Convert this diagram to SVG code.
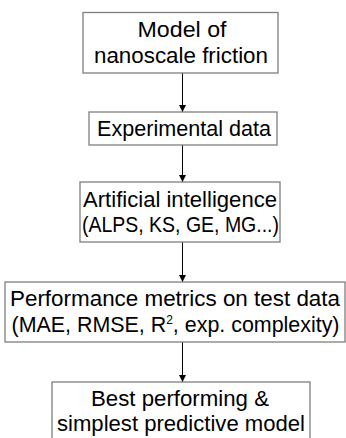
<svg xmlns="http://www.w3.org/2000/svg" width="346" height="438" viewBox="0 0 346 438">
<defs>
<marker id="ah" viewBox="0 0 10 10" refX="10" refY="5" markerWidth="9" markerHeight="7" markerUnits="userSpaceOnUse" orient="auto">
<path d="M0,0 L10,5 L0,10 z" fill="#000"/>
</marker>
<style>
.box{fill:#fff;stroke:#7f7f7f;stroke-width:1.3}
.t{font-family:"Liberation Sans",Arial,sans-serif;font-size:21.5px;fill:#000;text-anchor:middle}
.c{stroke:#000;stroke-width:1;fill:none;marker-end:url(#ah)}
</style>
</defs>
<rect width="346" height="438" fill="#fff"/>
<g id="connectors">
<line class="c" x1="182.5" y1="73" x2="182.5" y2="112"/>
<line class="c" x1="182.5" y1="145" x2="182.5" y2="182"/>
<line class="c" x1="182.5" y1="242" x2="182.5" y2="282"/>
<line class="c" x1="182.5" y1="342" x2="182.5" y2="382"/>
</g>
<g id="n1">
<rect class="box" x="83" y="12.5" width="195" height="60.5"/>
<text class="t" x="182" y="37" textLength="89" lengthAdjust="spacingAndGlyphs">Model of</text>
<text class="t" x="181" y="63" textLength="174" lengthAdjust="spacingAndGlyphs">nanoscale friction</text>
</g>
<g id="n2">
<rect class="box" x="89" y="112" width="188" height="33"/>
<text class="t" x="184" y="136" textLength="174" lengthAdjust="spacingAndGlyphs">Experimental data</text>
</g>
<g id="n3">
<rect class="box" x="80" y="182" width="200" height="60"/>
<text class="t" x="180" y="207" textLength="194" lengthAdjust="spacingAndGlyphs">Artificial intelligence</text>
<text class="t" x="180.5" y="232" textLength="197" lengthAdjust="spacingAndGlyphs">(ALPS, KS, GE, MG...)</text>
</g>
<g id="n4">
<rect class="box" x="5" y="282" width="340" height="60"/>
<text class="t" x="175" y="306" textLength="330" lengthAdjust="spacingAndGlyphs">Performance metrics on test data</text>
<text class="t" x="175.5" y="332" textLength="328" lengthAdjust="spacingAndGlyphs">(MAE, RMSE, R<tspan dy="-8" font-size="12">2</tspan><tspan dy="8">, exp. complexity)</tspan></text>
</g>
<g id="n5">
<rect class="box" x="52" y="382" width="258" height="62"/>
<text class="t" x="180" y="406" textLength="178" lengthAdjust="spacingAndGlyphs">Best performing &amp;</text>
<text class="t" x="181" y="431" textLength="248" lengthAdjust="spacingAndGlyphs">simplest predictive model</text>
</g>
</svg>
